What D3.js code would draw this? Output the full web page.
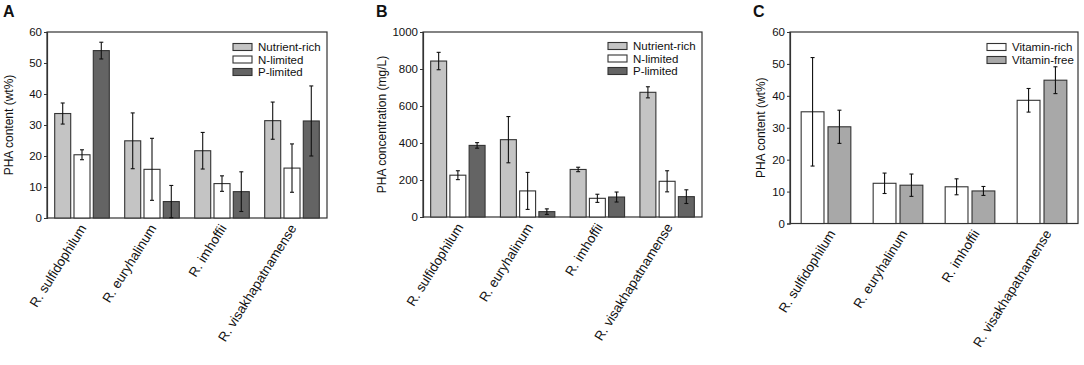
<!DOCTYPE html>
<html><head><meta charset="utf-8">
<script src="https://cdn.jsdelivr.net/npm/d3@7"></script>
<style>body{margin:0;background:#fff}svg{display:block;font-family:"Liberation Sans",Arial,sans-serif}</style>
</head><body><svg id="c" width="1084" height="365"></svg>
<script>
const categories = ["R. sulfidophilum","R. euryhalinum","R. imhoffii","R. visakhapatnamense"];

// Panel A: PHA content (wt%)
const aNutrientRich = [33.7, 24.9, 21.7, 31.4];
const aNutrientRichErr = [3.4, 9.0, 5.9, 6.0];
const aNLimited = [20.4, 15.7, 11.1, 16.1];
const aNLimitedErr = [1.6, 10.0, 2.5, 7.8];
const aPLimited = [54.0, 5.3, 8.5, 31.3];
const aPLimitedErr = [2.7, 5.2, 6.4, 11.3];
const aTicks = [0,10,20,30,40,50,60];

// Panel B: PHA concentration (mg/L)
const bNutrientRich = [843, 418, 257, 674];
const bNutrientRichErr = [47, 125, 12, 30];
const bNLimited = [226, 141, 101, 193];
const bNLimitedErr = [24, 100, 22, 57];
const bPLimited = [387, 29, 108, 110];
const bPLimitedErr = [15, 15, 27, 37];
const bTicks = [0,200,400,600,800,1000];

// Panel C: PHA content (wt%)
const cVitaminRich = [35.0, 12.6, 11.5, 38.6];
const cVitaminRichErr = [17.0, 3.2, 2.5, 3.7];
const cVitaminFree = [30.3, 12.0, 10.2, 44.9];
const cVitaminFreeErr = [5.2, 3.5, 1.4, 4.2];
const cTicks = [0,10,20,30,40,50,60];

const seriesA = [
  {name:"Nutrient-rich", vals:aNutrientRich, err:aNutrientRichErr, fill:"#c4c4c4"},
  {name:"N-limited", vals:aNLimited, err:aNLimitedErr, fill:"#ffffff"},
  {name:"P-limited", vals:aPLimited, err:aPLimitedErr, fill:"#646464"}];
const seriesB = [
  {name:"Nutrient-rich", vals:bNutrientRich, err:bNutrientRichErr, fill:"#c4c4c4"},
  {name:"N-limited", vals:bNLimited, err:bNLimitedErr, fill:"#ffffff"},
  {name:"P-limited", vals:bPLimited, err:bPLimitedErr, fill:"#646464"}];
const seriesC = [
  {name:"Vitamin-rich", vals:cVitaminRich, err:cVitaminRichErr, fill:"#ffffff"},
  {name:"Vitamin-free", vals:cVitaminFree, err:cVitaminFreeErr, fill:"#a8a8a8"}];

const svg = d3.select("#c");
const stroke = "#333";

function panel(o){
  const g = svg.append("g");
  const x = d3.scaleBand().domain(categories).range([o.left,o.right]).paddingInner(o.pad).paddingOuter(o.pad/2);
  const xi = d3.scaleBand().domain(o.series.map(s=>s.name)).range([0,x.bandwidth()]).paddingInner(o.ipad);
  const y = d3.scaleLinear().domain([0,o.max]).range([o.bottom,o.top]);
  g.append("rect").attr("x",o.left).attr("y",o.top).attr("width",o.right-o.left).attr("height",o.bottom-o.top)
    .attr("fill","none").attr("stroke",stroke).attr("stroke-width",1.2);
  const ya = g.append("g").attr("transform",`translate(${o.left},0)`)
    .call(d3.axisLeft(y).tickValues(o.ticks).tickFormat(d3.format("d")).tickSize(3).tickPadding(2));
  ya.select(".domain").attr("stroke",stroke).attr("stroke-width",1.2);
  ya.selectAll(".tick line").attr("stroke",stroke);
  ya.selectAll("text").attr("font-size",11.5).attr("fill","#111").attr("font-family","Liberation Sans, Arial, sans-serif");
  o.series.forEach(s=>{
    const gs = g.append("g");
    categories.forEach((c,i)=>{
      const bx = x(c)+xi(s.name), bw = xi.bandwidth();
      gs.append("rect").attr("x",bx).attr("y",y(s.vals[i])).attr("width",bw).attr("height",y(0)-y(s.vals[i]))
        .attr("fill",s.fill).attr("stroke",stroke).attr("stroke-width",1.1);
      const cx = bx+bw/2, lo = y(Math.max(0,s.vals[i]-s.err[i])), hi = y(s.vals[i]+s.err[i]);
      gs.append("line").attr("x1",cx).attr("x2",cx).attr("y1",lo).attr("y2",hi).attr("stroke","#111").attr("stroke-width",1.1);
      [lo,hi].forEach(yy=>gs.append("line").attr("x1",cx-2).attr("x2",cx+2).attr("y1",yy).attr("y2",yy).attr("stroke","#111").attr("stroke-width",1.1));
    });
  });
  categories.forEach(c=>{
    const cx = x(c)+x.bandwidth()/2;
    g.append("text").attr("transform",`translate(${cx+o.labDx},${o.bottom+10}) rotate(-58)`)
      .attr("text-anchor","end").attr("font-size",13.3).attr("fill","#111").text(c);
  });
  g.append("text").attr("transform",`translate(${o.titleX},${(o.top+o.bottom)/2}) rotate(-90)`)
    .attr("text-anchor","middle").attr("dy","0.35em").attr("font-size",12).attr("fill","#111").text(o.ytitle);
  g.append("text").attr("x",o.letterX).attr("y",17).attr("font-size",16).attr("font-weight","bold").attr("fill","#111").text(o.letter);
  o.series.forEach((s,i)=>{
    const ly = o.legY + i*o.legStep;
    g.append("rect").attr("x",o.legX).attr("y",ly-3.5).attr("width",19).attr("height",7)
      .attr("fill",s.fill).attr("stroke",stroke).attr("stroke-width",1.1);
    g.append("text").attr("x",o.legX+25).attr("y",ly).attr("dy","0.35em").attr("font-size",11.5).attr("fill","#111").text(s.name);
  });
}

panel({left:47,right:327,top:32,bottom:218,max:60,ticks:aTicks,series:seriesA,pad:0.22,ipad:0.17,labDx:5,
  ytitle:"PHA content (wt%)",titleX:9,letter:"A",letterX:3,legX:233,legY:47,legStep:12.5});
panel({left:423,right:702,top:32,bottom:217,max:1000,ticks:bTicks,series:seriesB,pad:0.22,ipad:0.17,labDx:6,
  ytitle:"PHA concentration (mg/L)",titleX:382,letter:"B",letterX:376,legX:608,legY:46,legStep:12.5});
panel({left:790,right:1078,top:32,bottom:223.5,max:60,ticks:cTicks,series:seriesC,pad:0.31,ipad:0.15,labDx:10,
  ytitle:"PHA content (wt%)",titleX:761,letter:"C",letterX:753,legX:987,legY:47,legStep:13});
</script></body></html>
